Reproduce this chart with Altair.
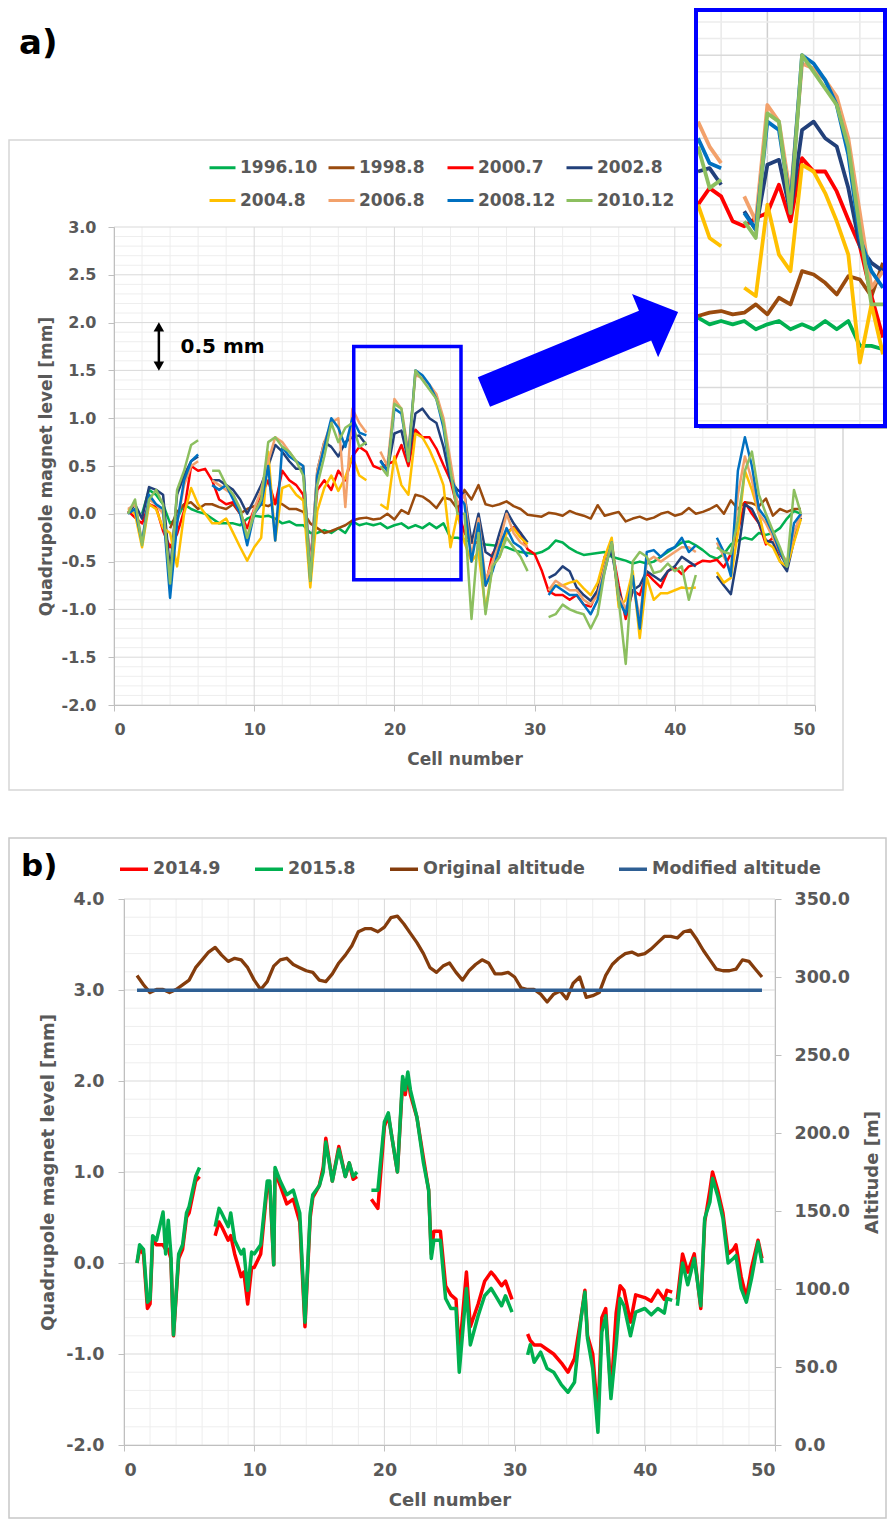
import altair as alt
import pandas as pd

FONT = "DejaVu Sans"
GREY = "#595959"
AXIS_GREY = "#BFBFBF"
GRID_MAJOR = "#D9D9D9"
GRID_MINOR = "#EEEEEE"
BLUE = "#0000FF"

# ======================= panel a data =======================
X_A = [i / 2 for i in range(2, 99)]          # cell positions 1.0 ... 49.0
SERIES_A = ["1996.10", "1998.8", "2000.7", "2002.8", "2004.8", "2006.8", "2008.12", "2010.12"]
COLORS_A = ["#00B050", "#9A4B0E", "#FF0000", "#22407A", "#FFC000", "#F2A16B", "#0070C0", "#8CBF5F"]

LEVEL_1996_10 = [None, None, 0.0, 0.25, 0.2, 0.1, -0.1, -0.05, 0.1, 0.05,
                 0.02, 0.0, -0.05, -0.1, -0.1, -0.1, -0.12, -0.05, -0.02, -0.03,
                 -0.02, -0.05, -0.1, -0.08, -0.12, -0.12, -0.2, -0.2, -0.17, -0.2,
                 -0.15, -0.2, -0.08, -0.12, -0.1, -0.12, -0.1, -0.15, -0.12, -0.1,
                 -0.15, -0.12, -0.15, -0.1, -0.15, -0.1, -0.25, -0.25, -0.27, -0.3,
                 -0.3, -0.32, -0.33, -0.34, -0.35, -0.38, -0.4, -0.41, -0.42, -0.4,
                 -0.36, -0.28, -0.3, -0.36, -0.4, -0.43, -0.42, -0.41, -0.4, -0.45,
                 -0.47, -0.49, -0.52, -0.5, -0.52, -0.5, -0.45, -0.4, -0.35, -0.3,
                 -0.29, -0.33, -0.38, -0.44, -0.47, -0.42, -0.32, -0.28, -0.25, -0.27,
                 -0.2, -0.22, -0.2, -0.15, -0.05, 0.03, 0.0]
LEVEL_1998_8 = [None, None, None, None, None, None, -0.15, 0.02, 0.1, 0.12,
                0.05, 0.1, 0.1, 0.07, 0.05, 0.1, 0.0, 0.05, 0.08, 0.1,
                0.08, 0.12, 0.1, 0.05, 0.05, 0.02, -0.1, -0.15, -0.2, -0.18,
                -0.15, -0.12, -0.07, -0.05, -0.04, -0.06, -0.05, 0.0, -0.06, 0.04,
                0.0, 0.2, 0.18, 0.13, 0.06, 0.17, 0.15, 0.05, 0.25, 0.15,
                0.3, 0.1, 0.08, 0.1, 0.13, 0.08, 0.05, -0.01, -0.02, -0.03,
                0.01, 0.0, -0.02, 0.03, 0.0, -0.02, -0.05, 0.09, -0.02, 0.0,
                0.02, -0.08, -0.05, -0.03, -0.06, -0.04, 0.0, 0.02, -0.02, 0.0,
                0.06, 0.0, 0.02, 0.05, 0.09, 0.0, 0.14, 0.05, 0.12, 0.11,
                0.08, 0.16, -0.02, 0.05, 0.02, 0.05, 0.05]
LEVEL_2000_7 = [0.03, -0.04, -0.1, 0.1, 0.07, -0.18, -0.35, -0.21, 0.03, 0.5,
                0.45, 0.47, 0.35, 0.15, 0.1, 0.12, 0.0, -0.15, 0.05, 0.2,
                0.35, 0.1, 0.45, 0.35, 0.3, 0.2, -0.5, 0.25, 0.35, 0.25,
                0.45, 0.35, 0.6, 0.7, 0.65, 0.5, 0.47, 0.52, 0.55, 0.72,
                0.5, 0.88, 0.8, 0.8, 0.68, 0.51, 0.35, 0.05, -0.2, -0.3,
                -0.3, -0.75, -0.42, -0.3, -0.2, -0.14, -0.2, -0.37, -0.42, -0.59,
                -0.81, -0.85, -0.85, -0.9, -0.85, -0.95, -0.97, -0.8, -0.45, -0.35,
                -0.75, -1.1, -0.8, -0.85, -0.62, -0.7, -0.77, -0.6, -0.56, -0.63,
                -0.55, -0.53, -0.49, -0.5, -0.48, -0.56, -0.42, -0.18, 0.12, 0.0,
                -0.1, -0.32, -0.25, -0.42, -0.53, -0.21, 0.0]
LEVEL_2002_8 = [0.0, 0.1, -0.05, 0.28, 0.25, 0.2, -0.6, 0.2, 0.4, 0.55,
                0.6, None, 0.35, 0.35, 0.3, 0.25, 0.15, 0.0, 0.15, 0.3,
                0.5, 0.72, 0.65, 0.55, 0.47, 0.47, -0.6, 0.45, 0.75, 0.7,
                0.6, 0.75, 0.8, 0.82, 0.72, None, 0.56, 0.45, 0.84, 0.87,
                0.55, 1.05, 1.1, 1.0, 0.95, 0.7, 0.35, 0.25, 0.2, -0.3,
                0.0, -0.4, -0.45, -0.2, 0.03, -0.1, -0.2, -0.3, None, None,
                -0.67, -0.63, -0.55, -0.6, -0.77, -0.85, -0.91, -0.8, -0.5, -0.4,
                -0.8, -1.05, -0.8, -0.75, -0.6, -0.65, -0.7, -0.6, -0.55, -0.45,
                -0.5, -0.55, None, None, -0.65, -0.75, -0.84, -0.42, 0.1, 0.05,
                -0.1, -0.28, -0.3, -0.49, -0.6, -0.28, -0.04]
LEVEL_2004_8 = [0.05, 0.0, -0.35, 0.1, 0.05, -0.15, -0.2, -0.55, 0.0, 0.27,
                0.1, 0.0, -0.1, -0.1, -0.05, -0.2, -0.35, -0.49, -0.35, -0.25,
                0.65, -0.28, 0.27, 0.3, 0.2, 0.14, -0.77, 0.03, 0.27, 0.4,
                0.24, 0.38, 0.6, 0.4, 0.35, None, 0.1, 0.05, 0.6, 0.3,
                0.2, 0.84, 0.8, 0.67, 0.5, 0.3, -0.35, 0.0, -0.3, -0.5,
                -0.4, -1.0, -0.55, -0.45, -0.2, -0.15, -0.25, -0.32, None, None,
                -0.8, -0.75, -0.75, -0.72, -0.7, -0.78, -0.85, -0.72, -0.45, -0.25,
                -0.98, -0.9, -0.6, -1.3, -0.67, -0.9, -0.83, -0.83, -0.8, -0.77,
                -0.78, -0.77, None, None, -0.61, -0.72, -0.67, -0.2, 0.45, 0.25,
                0.0, -0.3, -0.35, -0.5, -0.55, -0.3, -0.05]
LEVEL_2006_8 = [0.05, 0.1, -0.3, 0.15, 0.1, 0.0, -0.7, -0.1, 0.3, 0.5,
                0.55, None, 0.35, 0.3, 0.25, 0.2, 0.05, -0.25, 0.05, 0.25,
                0.55, 0.8, 0.75, 0.65, 0.55, 0.5, -0.6, 0.45, 0.75, 0.95,
                1.0, 0.07, 1.1, 0.95, 0.85, None, 0.65, 0.5, 1.2, 1.1,
                0.65, 1.45, 1.42, 1.35, 1.25, 1.0, 0.55, 0.1, 0.2, -0.45,
                -0.05, -0.7, -0.5, -0.3, 0.0, -0.2, -0.3, -0.35, None, None,
                -0.8, -0.7, -0.75, -0.8, -0.8, -0.9, -0.95, -0.85, -0.55, -0.3,
                -0.85, -1.0, -0.7, -1.1, -0.5, -0.45, -0.5, -0.45, -0.4, -0.35,
                -0.35, -0.4, None, None, -0.3, -0.45, -0.6, 0.2, 0.6, 0.35,
                0.0, -0.1, -0.25, -0.4, -0.5, -0.2, 0.0]
LEVEL_2008_12 = [0.0, 0.05, -0.3, 0.2, 0.1, 0.05, -0.88, -0.1, 0.35, 0.55,
                 0.62, None, 0.3, 0.25, 0.3, 0.15, 0.0, -0.33, 0.0, 0.1,
                 0.5, -0.28, 0.7, 0.6, 0.55, 0.5, -0.7, 0.4, 0.7, 1.0,
                 0.9, 0.7, 1.0, 0.85, 0.82, None, 0.55, 0.45, 1.1, 1.05,
                 0.6, 1.5, 1.45, 1.35, 1.2, 0.9, 0.4, 0.2, 0.1, -0.5,
                 -0.1, -0.75, -0.6, -0.35, -0.15, -0.3, -0.35, -0.45, None, None,
                 -0.85, -0.75, -0.8, -0.85, -0.85, -0.95, -1.05, -0.9, -0.6, -0.3,
                 -0.9, -1.05, -0.65, -1.2, -0.4, -0.38, -0.45, -0.38, -0.35, -0.25,
                 -0.4, -0.33, None, None, -0.25, -0.4, -0.65, 0.45, 0.8, 0.5,
                 0.05, -0.05, -0.2, -0.4, -0.55, -0.1, 0.0]
LEVEL_2010_12 = [0.0, 0.15, -0.33, 0.15, 0.25, 0.1, -0.73, 0.25, 0.45, 0.72,
                 0.77, None, 0.45, 0.45, 0.3, 0.2, 0.05, -0.25, 0.0, 0.15,
                 0.75, 0.8, 0.7, 0.65, 0.55, 0.4, -0.7, 0.3, 0.6, 0.95,
                 0.75, 0.9, 0.95, 0.7, 0.75, None, 0.5, 0.4, 1.15, 1.1,
                 0.55, 1.5, 1.4, 1.3, 1.2, 0.95, 0.45, 0.0, 0.0, -1.1,
                 -0.2, -1.05, -0.55, -0.45, -0.25, -0.35, -0.45, -0.6, None, None,
                 -1.08, -1.05, -0.95, -1.0, -1.03, -1.05, -1.2, -1.05, -0.6, -0.3,
                 -0.9, -1.57, -0.5, -0.4, -0.45, -0.62, -0.6, -0.52, -0.6, -0.55,
                 -0.9, -0.64, None, None, -0.35, -0.4, -0.42, -0.07, 0.45, 0.65,
                 0.2, 0.0, -0.18, -0.35, -0.55, 0.25, 0.0]
VALUES_A = [LEVEL_1996_10, LEVEL_1998_8, LEVEL_2000_7, LEVEL_2002_8,
            LEVEL_2004_8, LEVEL_2006_8, LEVEL_2008_12, LEVEL_2010_12]

# ======================= panel b data =======================
X_B = [1.0, 1.2, 1.5, 1.8, 2.0, 2.2, 2.5, 3.0, 3.2, 3.4, 3.6, 3.8, 4.2, 4.5, 4.8, 5.0, 5.5, 5.8,
       6.4,
       7.0, 7.3, 7.5, 8.0, 8.2, 8.5, 9.0, 9.2, 9.5, 9.8, 10.0, 10.5, 11.0, 11.2, 11.5, 11.6,
       12.0, 12.5, 13.0, 13.5, 13.9, 14.3, 14.5, 15.0, 15.3, 15.5, 16.0, 16.5, 17.0, 17.3, 17.6, 17.9,
       18.5,
       19.0, 19.5, 20.0, 20.3, 20.5, 21.0, 21.4, 21.6, 21.8, 22.0, 22.5, 23.0, 23.4, 23.6, 23.8,
       24.3, 24.7, 25.1, 25.5, 25.75, 26.3, 26.6, 27.2, 27.7, 28.2, 28.5, 29.0, 29.3, 29.8,
       30.4,
       31.0, 31.2, 31.5, 32.0, 32.5, 33.0, 33.6, 34.1, 34.6, 35.1, 35.4, 35.6, 36.0, 36.4,
       36.7, 37.0, 37.4, 37.8, 38.1, 38.4, 38.9, 39.3, 40.0, 40.5, 41.0, 41.5, 41.7, 42.1,
       42.3,
       42.5, 42.9, 43.3, 43.8, 44.3, 44.6, 45.0, 45.2, 45.6, 46.0, 46.4, 46.8, 47.0, 47.4,
       47.8, 48.2, 48.7, 49.0]
LEVEL_2014_9 = [0.0, 0.15, 0.1, -0.5, -0.45, 0.25, 0.2, 0.2, 0.15, 0.15, 0.05, -0.8, 0.05, 0.15, 0.5, 0.55, 0.9, 0.95,
                None,
                0.3, 0.45, 0.4, 0.25, 0.3, 0.1, -0.15, -0.1, -0.45, -0.05, -0.05, 0.1, 0.85, 0.85, -0.02, 1.0,
                0.85, 0.65, 0.7, 0.45, -0.7, 0.5, 0.72, 0.85, 1.05, 1.37, 0.9, 1.28, 0.95, 1.1, 0.92, 0.95,
                None,
                0.7, 0.6, 1.5, 1.62, 1.45, 1.0, 2.0, 1.85, 2.05, 1.85, 1.6, 1.15, 0.8, 0.1, 0.35,
                0.35, -0.25, -0.35, -0.4, -1.0, -0.1, -0.7, -0.45, -0.2, -0.1, -0.15, -0.25, -0.2, -0.4,
                None,
                -0.78, -0.85, -0.9, -0.9, -0.95, -1.0, -1.1, -1.2, -1.05, -0.6, -0.3, -0.8, -1.0, -1.7,
                -0.6, -0.5, -1.45, -0.55, -0.25, -0.3, -0.65, -0.35, -0.38, -0.42, -0.3, -0.4, -0.3, -0.32,
                None,
                -0.4, 0.1, -0.1, 0.1, -0.5, 0.45, 0.8, 1.0, 0.8, 0.55, 0.1, 0.15, 0.2, -0.15,
                -0.38, -0.05, 0.25, 0.05]
LEVEL_2015_8 = [0.0, 0.2, 0.15, -0.43, -0.4, 0.3, 0.25, 0.56, 0.1, 0.47, 0.1, -0.79, 0.1, 0.2, 0.55, 0.62, 0.95, 1.05,
                None,
                0.4, 0.6, 0.55, 0.4, 0.55, 0.25, 0.1, 0.15, -0.3, 0.12, 0.1, 0.2, 0.9, 0.9, -0.02, 1.05,
                0.9, 0.75, 0.8, 0.55, -0.65, 0.55, 0.75, 0.85, 1.0, 1.33, 0.9, 1.25, 0.95, 1.1, 0.95, 1.0,
                None,
                0.8, 0.8, 1.55, 1.65, 1.45, 1.0, 2.05, 1.9, 2.1, 1.9, 1.6, 1.1, 0.8, 0.05, 0.25,
                0.25, -0.39, -0.5, -0.5, -1.2, -0.28, -0.9, -0.58, -0.36, -0.28, -0.35, -0.47, -0.36, -0.54,
                None,
                -1.01, -0.9, -1.09, -0.98, -1.16, -1.2, -1.34, -1.42, -1.31, -0.61, -0.32, -0.83, -1.16, -1.86,
                -0.76, -0.58, -1.49, -0.9, -0.39, -0.47, -0.8, -0.54, -0.5, -0.57, -0.5, -0.55, -0.39, -0.41,
                None,
                -0.47, 0.0, -0.24, 0.05, -0.47, 0.49, 0.67, 0.93, 0.74, 0.49, 0.0, 0.05, 0.08, -0.28,
                -0.43, -0.17, 0.23, 0.0]
ALT_ORIGINAL = [301, 295, 290, 292, 292, 290, 292, 295, 298, 306,
                311, 316, 319, 314, 310, 312, 311, 306, 298, 292,
                297, 307, 311, 312, 308, 306, 304, 303, 298, 297,
                302, 309, 314, 320, 329, 331, 331, 329, 332, 338,
                339, 334, 328, 322, 315, 306, 303, 307, 309, 303,
                298, 304, 308, 311, 309, 302, 302, 303, 300, 293,
                292, 292, 289, 284, 289, 291, 286, 296, 300, 287,
                288, 290, 301, 308, 312, 315, 316, 314, 315, 318,
                322, 326, 326, 325, 329, 330, 324, 317, 311, 305,
                304, 304, 305, 311, 310, 305, 300]
X_MOD = [1.0, 49.0]
ALT_MODIFIED = [291.5, 291.5]
SERIES_B = ["2014.9", "2015.8", "Original altitude", "Modified altitude"]
COLORS_B = ["#FF0000", "#00B050", "#843C0C", "#2E5F94"]

# ======================= ticks / grid / annotations =======================
X_TICKS = [0, 10, 20, 30, 40, 50]
X_MINOR = [2, 4, 6, 8, 12, 14, 16, 18, 22, 24, 26, 28, 32, 34, 36, 38, 42, 44, 46, 48]
Y_TICKS_A = [-2.0, -1.5, -1.0, -0.5, 0.0, 0.5, 1.0, 1.5, 2.0, 2.5, 3.0]
Y_MINOR_A = [round(-2 + 0.1 * k, 1) for k in range(51) if k % 5]
Y_TICKS_B = [-2.0, -1.0, 0.0, 1.0, 2.0, 3.0, 4.0]
Y_MINOR_B = [round(-2 + 0.2 * k, 1) for k in range(31) if k % 5]
ALT_TICKS = [0, 50, 100, 150, 200, 250, 300, 350]

ZOOM_BOX = dict(x1=[17.1], x2=[24.75], y1=[-0.69], y2=[1.75])
SCALE_BAR = dict(x=[3.2], y1=[1.56], y2=[1.94])
SCALE_HEADS = dict(x=[3.2, 3.2], y=[1.955, 1.545], s=["triangle-up", "triangle-down"])
SCALE_LABEL = dict(x=[4.75], y=[1.75], t=["0.5 mm"])
INSET_X = [17, 25]
INSET_Y = [-0.72, 1.76]
INSET_XGRID = [18, 20, 22, 24]
INSET_YGRID = [v for v in Y_MINOR_A + Y_TICKS_A if -0.72 < v < 1.76]

for v in VALUES_A:
    assert len(v) == len(X_A)
assert len(ALT_ORIGINAL) == len(X_A)
assert len(LEVEL_2014_9) == len(X_B) == len(LEVEL_2015_8)


def to_rows(xs, ys, name):
    rows, seg = [], 0
    for x, y in zip(xs, ys):
        if y is None:
            seg += 1
            continue
        rows.append({"x": x, "y": y, "series": name, "seg": f"{name}#{seg}"})
    return rows


rows_a = []
for name, vals in zip(SERIES_A, VALUES_A):
    rows_a += to_rows(X_A, vals, name)
df_a = pd.DataFrame(rows_a)
df_inset = df_a[(df_a.x >= INSET_X[0]) & (df_a.x <= INSET_X[1])]

df_b_level = pd.DataFrame(to_rows(X_B, LEVEL_2014_9, "2014.9") + to_rows(X_B, LEVEL_2015_8, "2015.8"))
df_b_alt = pd.DataFrame(to_rows(X_A, ALT_ORIGINAL, "Original altitude") +
                        to_rows(X_MOD, ALT_MODIFIED, "Modified altitude"))

ONE = pd.DataFrame({"k": [0]})
HYPHEN_LABEL = "replace(format(datum.value, '.1f'), '\u2212', '-')"

AX = dict(labelFont=FONT, labelFontWeight="bold", labelColor=GREY,
          titleFont=FONT, titleFontWeight="bold", titleColor=GREY,
          domainColor=AXIS_GREY, tickColor=AXIS_GREY, tickSize=6, grid=False, zindex=1)


def vrules(vals, color, xs, xaxis, y0, y1):
    return alt.Chart(pd.DataFrame({"v": vals})).mark_rule(color=color, strokeWidth=1).encode(
        x=alt.X("v:Q", scale=xs, axis=xaxis), y=alt.value(y0), y2=alt.value(y1))


def hrules(vals, color, ys, yaxis, x0, x1):
    return alt.Chart(pd.DataFrame({"v": vals})).mark_rule(color=color, strokeWidth=1).encode(
        y=alt.Y("v:Q", scale=ys, axis=yaxis), x=alt.value(x0), x2=alt.value(x1))


# ======================= panel a =======================
W_A, H_A = 701, 478
XS_A = alt.Scale(domain=[0, 50], nice=False, zero=False)
YS_A = alt.Scale(domain=[-2, 3], nice=False, zero=False)
AXIS_XA = alt.Axis(values=X_TICKS, format="d", title="Cell number", labelFontSize=16, titleFontSize=17,
                   labelPadding=10, titlePadding=14, **AX)
AXIS_YA = alt.Axis(values=Y_TICKS_A, labelExpr=HYPHEN_LABEL, title="Quadrupole magnet level [mm]",
                   labelFontSize=16, titleFontSize=17, labelPadding=12, titlePadding=6, **AX)

legend_a = alt.Legend(orient="none", legendX=94, legendY=-74, columns=4, direction="horizontal",
                      title=None, symbolType="stroke", symbolSize=676, symbolStrokeWidth=3,
                      labelFont=FONT, labelFontWeight="bold", labelFontSize=17, labelColor=GREY,
                      gridAlign="all", columnPadding=4, rowPadding=10, labelOffset=3, labelLimit=300)
color_a = alt.Color("series:N", scale=alt.Scale(domain=SERIES_A, range=COLORS_A), legend=legend_a)

frame_a = alt.Chart(ONE).mark_rect(fill="white", fillOpacity=0, stroke="#D6D6D6", strokeWidth=1.5).encode(
    x=alt.value(-105), x2=alt.value(729), y=alt.value(-87), y2=alt.value(563))

lines_a = alt.Chart(df_a).mark_line(strokeWidth=2.5, strokeJoin="round").encode(
    x=alt.X("x:Q", scale=XS_A, axis=AXIS_XA),
    y=alt.Y("y:Q", scale=YS_A, axis=AXIS_YA),
    color=color_a, detail="seg:N")

zoom_rect = alt.Chart(pd.DataFrame(ZOOM_BOX)).mark_rect(fill="white", fillOpacity=0, stroke=BLUE,
                                                        strokeWidth=3.5).encode(
    x=alt.X("x1:Q", scale=XS_A, axis=AXIS_XA), x2="x2:Q",
    y=alt.Y("y1:Q", scale=YS_A, axis=AXIS_YA), y2="y2:Q")

bar = alt.Chart(pd.DataFrame(SCALE_BAR)).mark_rule(color="black", strokeWidth=2.5).encode(
    x=alt.X("x:Q", scale=XS_A, axis=AXIS_XA), y=alt.Y("y1:Q", scale=YS_A, axis=AXIS_YA), y2="y2:Q")
heads = alt.Chart(pd.DataFrame(SCALE_HEADS)).mark_point(filled=True, color="black", opacity=1, size=110).encode(
    x=alt.X("x:Q", scale=XS_A, axis=AXIS_XA), y=alt.Y("y:Q", scale=YS_A, axis=AXIS_YA),
    shape=alt.Shape("s:N", scale=None, legend=None))
bar_label = alt.Chart(pd.DataFrame(SCALE_LABEL)).mark_text(
    align="left", baseline="middle", font=FONT, fontWeight="bold", fontSize=20, color="black").encode(
    x=alt.X("x:Q", scale=XS_A, axis=AXIS_XA), y=alt.Y("y:Q", scale=YS_A, axis=AXIS_YA), text="t:N")

ARROW_PATH = "M -1 -0.153 L 0.66 -0.153 L 0.66 -0.326 L 1 0 L 0.66 0.326 L 0.66 0.153 L -1 0.153 Z"
big_arrow = alt.Chart(ONE).mark_point(shape=ARROW_PATH, size=44100, angle=337.6, filled=True,
                                      color=BLUE, opacity=1, strokeWidth=0).encode(
    x=alt.value(467), y=alt.value(125))

label_a = alt.Chart(ONE).mark_text(text="a)", align="left", baseline="middle", font=FONT,
                                   fontWeight="bold", fontSize=34, color="black").encode(
    x=alt.value(-95), y=alt.value(-183))

base_a = alt.layer(frame_a,
                   vrules(X_MINOR, GRID_MINOR, XS_A, AXIS_XA, 0, H_A),
                   hrules(Y_MINOR_A, GRID_MINOR, YS_A, AXIS_YA, 0, W_A),
                   vrules(X_TICKS, GRID_MAJOR, XS_A, AXIS_XA, 0, H_A),
                   hrules(Y_TICKS_A, GRID_MAJOR, YS_A, AXIS_YA, 0, W_A),
                   lines_a, zoom_rect, bar, heads, bar_label, big_arrow, label_a)

# ---- inset (zoomed copy of the boxed region) ----
IN_L, IN_R, IN_T, IN_B = 582, 771, -217, 199      # border (stroke centre), px from plot origin
XS_I = alt.Scale(domain=INSET_X, range=[IN_L + 2, IN_R - 2], nice=False, zero=False)
YS_I = alt.Scale(domain=INSET_Y, range=[IN_B - 2, IN_T + 2], nice=False, zero=False)
inset_shadow = alt.Chart(ONE).mark_rect(fill="#8C8C8C", opacity=0.7).encode(
    x=alt.value(IN_L + 3), x2=alt.value(IN_R + 2), y=alt.value(IN_T + 4), y2=alt.value(IN_B + 3))
inset_bg = alt.Chart(ONE).mark_rect(fill="white").encode(
    x=alt.value(IN_L), x2=alt.value(IN_R), y=alt.value(IN_T), y2=alt.value(IN_B))
inset_vgrid = alt.Chart(pd.DataFrame({"v": INSET_XGRID})).mark_rule(strokeWidth=1.5).encode(
    x=alt.X("v:Q", scale=XS_I, axis=None), y=alt.value(IN_T), y2=alt.value(IN_B),
    color=alt.condition("datum.v == 20", alt.value("#CFCFCF"), alt.value("#E8E8E8")))
inset_hgrid = alt.Chart(pd.DataFrame({"v": INSET_YGRID})).mark_rule(strokeWidth=1.5).encode(
    y=alt.Y("v:Q", scale=YS_I, axis=None), x=alt.value(IN_L), x2=alt.value(IN_R),
    color=alt.condition("abs(datum.v*2 - round(datum.v*2)) < 0.001", alt.value("#DADADA"),
                        alt.value("#ECECEC")))
inset_lines = alt.Chart(df_inset).mark_line(strokeWidth=3.8, strokeJoin="round").encode(
    x=alt.X("x:Q", scale=XS_I, axis=None), y=alt.Y("y:Q", scale=YS_I, axis=None),
    color=color_a, detail="seg:N")
inset_border = alt.Chart(ONE).mark_rect(fill="white", fillOpacity=0, stroke=BLUE, strokeWidth=4).encode(
    x=alt.value(IN_L), x2=alt.value(IN_R), y=alt.value(IN_T), y2=alt.value(IN_B))
inset_a = alt.layer(inset_shadow, inset_bg, inset_vgrid, inset_hgrid, inset_lines, inset_border)

panel_a = alt.layer(base_a, inset_a).resolve_scale(x="independent", y="independent").properties(
    width=W_A, height=H_A)

# ======================= panel b =======================
# The view starts 10 px left of panel b's plot so both panels' frames line up;
# the data range starts at 10 px and the left axis is pulled in by the same amount.
OFF_B = 10
W_B, H_B = 651 + OFF_B, 546
XS_B = alt.Scale(domain=[0, 50], range=[OFF_B, W_B], nice=False, zero=False)
YS_B = alt.Scale(domain=[-2, 4], nice=False, zero=False)
YS_ALT = alt.Scale(domain=[0, 350], nice=False, zero=False)
AXIS_XB = alt.Axis(values=X_TICKS, format="d", title="Cell number", labelFontSize=17.5, titleFontSize=18,
                   labelPadding=10, titlePadding=13, **AX)
AXIS_YB = alt.Axis(values=Y_TICKS_B, labelExpr=HYPHEN_LABEL, title="Quadrupole magnet level [mm]",
                   labelFontSize=17.5, titleFontSize=18, labelPadding=14, titlePadding=8,
                   offset=-OFF_B, **AX)
AXIS_ALT = alt.Axis(orient="right", values=ALT_TICKS, format=".1f", title="Altitude [m]", titleAngle=270,
                    titleBaseline="top", labelFontSize=17.5, titleFontSize=18, labelPadding=13,
                    titlePadding=14, **AX)

legend_b = alt.Legend(orient="none", legendX=-6 + OFF_B, legendY=-46, direction="horizontal", columns=4,
                      title=None, symbolType="stroke", symbolSize=784, symbolStrokeWidth=3.5,
                      labelFont=FONT, labelFontWeight="bold", labelFontSize=17.5, labelColor=GREY,
                      gridAlign="each", columnPadding=27, labelOffset=3, labelLimit=300)
color_b = alt.Color("series:N", scale=alt.Scale(domain=SERIES_B, range=COLORS_B), legend=legend_b)

frame_b = alt.Chart(ONE).mark_rect(fill="white", fillOpacity=0, stroke="#C8C8C8", strokeWidth=1.5).encode(
    x=alt.value(-115 + OFF_B), x2=alt.value(762 + OFF_B), y=alt.value(-61), y2=alt.value(619))

lines_b = alt.Chart(df_b_level).mark_line(strokeWidth=3.5, strokeJoin="round").encode(
    x=alt.X("x:Q", scale=XS_B, axis=AXIS_XB),
    y=alt.Y("y:Q", scale=YS_B, axis=AXIS_YB),
    color=color_b, detail="seg:N")

label_b = alt.Chart(ONE).mark_text(text="b)", align="left", baseline="middle", font=FONT,
                                   fontWeight="bold", fontSize=31, color="black").encode(
    x=alt.value(-103 + OFF_B), y=alt.value(-32))

left_b = alt.layer(frame_b,
                   vrules(X_MINOR, GRID_MINOR, XS_B, AXIS_XB, 0, H_B),
                   hrules(Y_MINOR_B, GRID_MINOR, YS_B, AXIS_YB, OFF_B, W_B),
                   vrules(X_TICKS, GRID_MAJOR, XS_B, AXIS_XB, 0, H_B),
                   hrules(Y_TICKS_B, GRID_MAJOR, YS_B, AXIS_YB, OFF_B, W_B),
                   lines_b, label_b)

alt_lines = alt.Chart(df_b_alt).mark_line(strokeWidth=3.3, strokeJoin="round").encode(
    x=alt.X("x:Q", scale=XS_B, axis=AXIS_XB),
    y=alt.Y("y:Q", scale=YS_ALT, axis=AXIS_ALT),
    color=color_b, detail="seg:N")

panel_b = alt.layer(left_b, alt_lines).resolve_scale(y="independent").properties(width=W_B, height=H_B)

chart = alt.vconcat(panel_a, panel_b, spacing=46, padding=0, background="white").resolve_scale(
    color="independent").resolve_legend(color="independent").configure_view(stroke=None)

chart.save("out.html", embed_options={"renderer": "svg", "actions": False})
